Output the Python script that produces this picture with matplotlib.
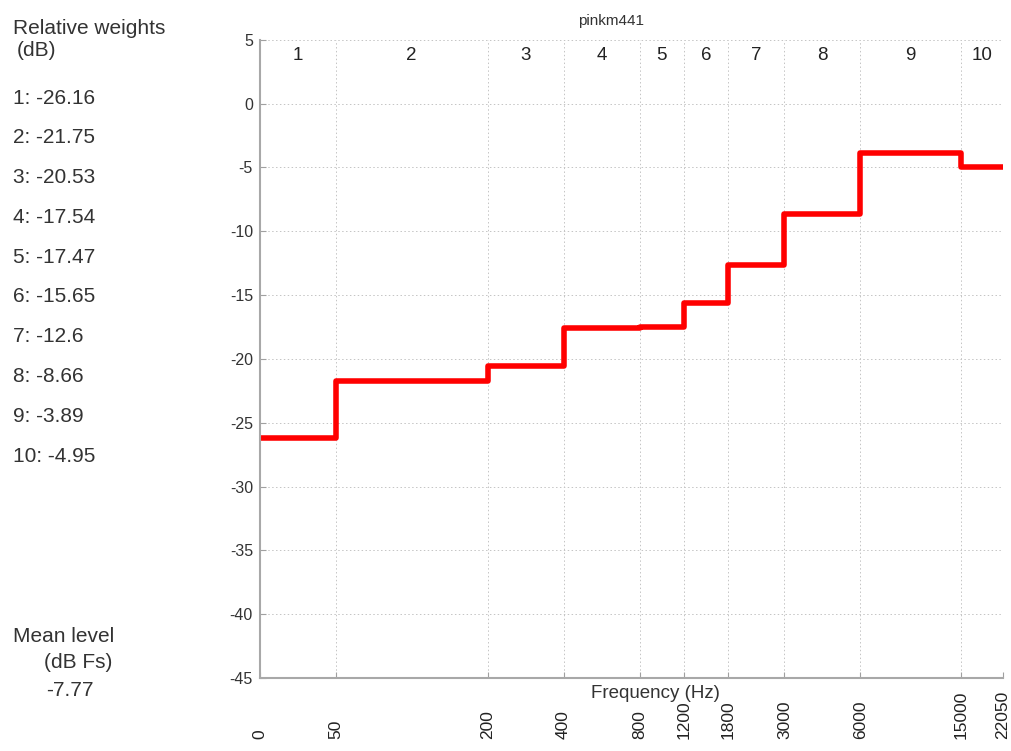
import numpy as np
import matplotlib
matplotlib.use('Agg')
import matplotlib.pyplot as plt
import matplotlib.transforms as mtransforms

plt.rcParams['font.family'] = ['Liberation Sans', 'DejaVu Sans']
plt.rcParams['axes.unicode_minus'] = False

title = 'pinkm441'
edges = [0, 50, 200, 400, 800, 1200, 1800, 3000, 6000, 15000, 22050]
weights = [-26.16, -21.75, -20.53, -17.54, -17.47, -15.65, -12.6, -8.66, -3.89, -4.95]
band_names = ['1', '2', '3', '4', '5', '6', '7', '8', '9', '10']
mean_level = -7.77


def fpos(f):
    # octave position, 0 Hz drawn one octave below 50 Hz
    f = np.asarray(f, dtype=float)
    return np.log2(np.where(f <= 0, 25.0, f))


fig = plt.figure(figsize=(10.11, 7.51), dpi=100)
ax = fig.add_axes([0.257, 0.097, 0.735, 0.85])

xe = fpos(edges)
xs = np.repeat(xe, 2)[1:-1]
ys = np.repeat(weights, 2)
ax.plot(xs, ys, color='red', lw=4, solid_joinstyle='round', solid_capstyle='butt')

ax.set_xlim(xe[0], xe[-1])
ax.set_ylim(-45, 5)
ax.set_yticks(np.arange(-45, 6, 5))
ax.set_xticks(xe)
ax.set_xticklabels([])
ax.grid(True, color='#c4c4c4', linestyle=(0, (1.5, 2.5)), lw=0.7)
ax.tick_params(axis='both', direction='in', length=4, color='#a0a0a0', labelsize=11.5,
               labelcolor='#333333')
ax.tick_params(axis='y', pad=5)
for s in ['top', 'right']:
    ax.spines[s].set_visible(False)
for s in ['left', 'bottom']:
    ax.spines[s].set_color('#a8a8a8')
    ax.spines[s].set_linewidth(1.5)

# band numbers along the top
for i, name in enumerate(band_names):
    ax.text((xe[i] + xe[i + 1]) / 2, 3.8, name, ha='center', va='center',
            fontsize=13.5, color='#222222')

# rotated frequency labels, bottom-aligned
trans = mtransforms.blended_transform_factory(ax.transData, fig.transFigure)
for x, f in zip(xe, edges):
    ax.text(x, 1 - 739 / 751, str(f), rotation=90, ha='center', va='bottom',
            fontsize=12.5, color='#222222', transform=trans, clip_on=False)

fig.text(655 / 1011, 1 - 693 / 751, 'Frequency (Hz)', ha='center', va='center',
         fontsize=13.5, color='#333333')
fig.text(611 / 1011, 1 - 21 / 751, title, ha='center', va='center',
         fontsize=11, color='#333333')

# side panel
side = dict(ha='left', va='center', fontsize=15, color='#333333')
fig.text(13 / 1011, 1 - 28 / 751, 'Relative weights', **side)
fig.text(17 / 1011, 1 - 51 / 751, '(dB)', **side)
for i, w in enumerate(weights):
    fig.text(13 / 1011, 1 - (98 + 39.8 * i) / 751, '%s: %g' % (band_names[i], w), **side)
fig.text(13 / 1011, 1 - 637 / 751, 'Mean level', **side)
fig.text(44 / 1011, 1 - 663 / 751, '(dB Fs)', **side)
fig.text(46 / 1011, 1 - 691 / 751, '%g' % mean_level, **side)

fig.savefig('out.png', dpi=100)
